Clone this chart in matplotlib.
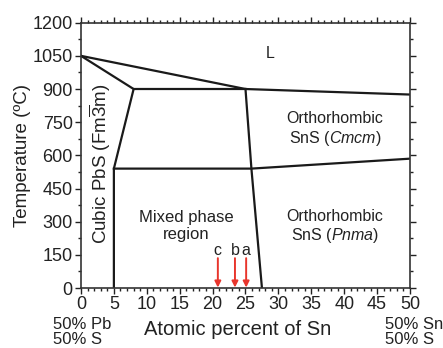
import matplotlib
matplotlib.use('Agg')
from matplotlib import pyplot as plt
from matplotlib.ticker import MultipleLocator

plt.rcParams['font.family'] = ['Liberation Sans', 'DejaVu Sans']
plt.rcParams['mathtext.fontset'] = 'custom'
plt.rcParams['mathtext.rm'] = 'Liberation Sans'
plt.rcParams['mathtext.it'] = 'Liberation Sans:italic'

# phase boundaries (at% Sn, temperature in C)
liquidus_x = [0, 25, 50]
liquidus_t = [1050, 900, 875]
cubic_x = [0, 8, 5, 5]
cubic_t = [1050, 900, 540, 0]
upper_x = [8, 25]
upper_t = [900, 900]
mixed_x = [25, 25.9, 27.5]
mixed_t = [900, 540, 0]
lower_x = [5, 25.9, 50]
lower_t = [540, 540, 585]

# sample positions
samples = ['c', 'b', 'a']
sample_x = [20.8, 23.4, 25.1]

fig = plt.figure(figsize=(4.43, 3.48), dpi=100)
ax = fig.add_axes([0.1828, 0.1724, 0.7427, 0.7624])

for xs, ts in [(liquidus_x, liquidus_t), (cubic_x, cubic_t), (upper_x, upper_t),
               (mixed_x, mixed_t), (lower_x, lower_t)]:
    ax.plot(xs, ts, color='#1a1a1a', lw=1.6)

for s, x in zip(samples, sample_x):
    ax.annotate('', xy=(x, 2), xytext=(x, 135),
                arrowprops=dict(arrowstyle='-|>', color='#e8352c', lw=1.4,
                                mutation_scale=9, shrinkA=0, shrinkB=0))
    ax.text(x, 168, s, ha='center', va='center', fontsize=11.5, color='#222222')

ax.text(28.7, 1062, 'L', ha='center', va='center', fontsize=11.5, color='#222222')
ax.text(38.6, 717, 'Orthorhombic\nSnS ($\\it{Cmcm}$)', ha='center', va='center',
        fontsize=11.5, color='#222222', linespacing=1.2)
ax.text(38.6, 276, 'Orthorhombic\nSnS ($\\it{Pnma}$)', ha='center', va='center',
        fontsize=11.5, color='#222222', linespacing=1.2)
ax.text(16, 281, 'Mixed phase\nregion', ha='center', va='center',
        fontsize=12, color='#222222', linespacing=1.2)
ax.text(2.9, 560, 'Cubic PbS (Fm$\\overline{3}$m)', ha='center', va='center',
        rotation=90, fontsize=13.5, color='#222222')

ax.set_xlim(0, 50)
ax.set_ylim(0, 1200)
ax.xaxis.set_major_locator(MultipleLocator(5))
ax.xaxis.set_minor_locator(MultipleLocator(1))
ax.yaxis.set_major_locator(MultipleLocator(150))
ax.yaxis.set_minor_locator(MultipleLocator(75))
ax.tick_params(which='both', direction='out', top=True, right=True,
               labelsize=13, colors='#222222', width=1.0, pad=2)
ax.tick_params(which='major', length=4)
ax.tick_params(which='minor', length=2.5)
for sp in ax.spines.values():
    sp.set_linewidth(1.2)
    sp.set_color('#333333')

ax.set_ylabel('Temperature (ºC)', fontsize=13.5, color='#222222', labelpad=1)
fig.text(0.536, 0.052, 'Atomic percent of Sn', ha='center', va='center',
         fontsize=14.5, color='#222222')
fig.text(0.12, 0.046, '50% Pb\n50% S', ha='left', va='center',
         fontsize=12, color='#222222', linespacing=1.05)
fig.text(0.869, 0.046, '50% Sn\n50% S', ha='left', va='center',
         fontsize=12, color='#222222', linespacing=1.05)

fig.savefig('out.png', dpi=100)
